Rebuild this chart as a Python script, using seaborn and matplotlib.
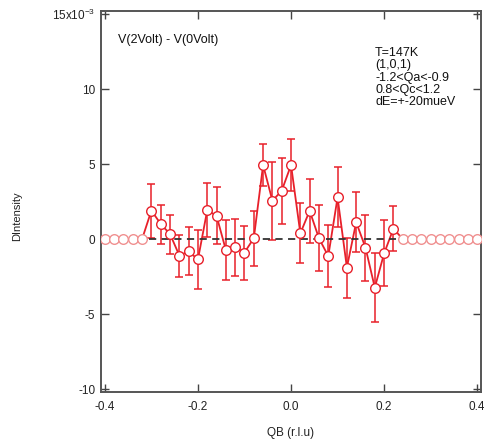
import numpy as np
import pandas as pd
import matplotlib
matplotlib.use("Agg")
import matplotlib.pyplot as plt
import seaborn as sns

# ---- data (values in units of 1e-3) ----
qb_left_zero = [-0.40, -0.38, -0.36, -0.34, -0.32]
qb_data = [-0.30, -0.28, -0.26, -0.24, -0.22, -0.20, -0.18, -0.16, -0.14, -0.12,
           -0.10, -0.08, -0.06, -0.04, -0.02, 0.00, 0.02, 0.04, 0.06, 0.08,
           0.10, 0.12, 0.14, 0.16, 0.18, 0.20, 0.22]
dint_data = [1.9, 1.0, 0.33, -1.1, -0.83, -1.36, 1.93, 1.54, -0.74, -0.56,
             -0.9, 0.05, 4.93, 2.55, 3.22, 4.93, 0.38, 1.88, 0.05, -1.14,
             2.77, -1.9, 1.12, -0.58, -3.24, -0.96, 0.69]
err_data = [1.8, 1.3, 1.3, 1.4, 1.6, 1.95, 1.78, 1.9, 2.0, 1.9,
            1.8, 1.85, 1.42, 2.6, 2.2, 1.75, 2.0, 2.15, 2.2, 2.05,
            2.0, 2.0, 2.0, 2.2, 2.3, 2.2, 1.5]
qb_right_zero = [0.24, 0.26, 0.28, 0.30, 0.32, 0.34, 0.36, 0.38, 0.40]
fit_range = [-0.305, 0.225]
fit_value = 0.0

annot_title = "V(2Volt) - V(0Volt)"
annot_params = ["T=147K", "(1,0,1)", "-1.2<Qa<-0.9", "0.8<Qc<1.2", "dE=+-20mueV"]
x_ticks = [-0.4, -0.2, 0.0, 0.2, 0.4]
x_ticklabels = ["-0.4", "-0.2", "0.0", "0.2", "0.4"]
y_ticks = [-10, -5, 0, 5, 10, 15]
y_ticklabels = ["-10", "-5", "0", "5", "10", r"15x10$^{-3}$"]

sns.set_theme(style="ticks")
plt.rcParams['font.family'] = ['Liberation Sans', 'DejaVu Sans']
plt.rcParams['mathtext.fontset'] = 'custom'
plt.rcParams['mathtext.rm'] = 'Liberation Sans'
plt.rcParams['mathtext.it'] = 'Liberation Sans'
plt.rcParams['mathtext.bf'] = 'Liberation Sans'

fig = plt.figure(figsize=(4.85, 4.46), dpi=100)
ax = fig.add_axes([0.2076, 0.1204, 0.9911 - 0.2076, 0.9753 - 0.1204])

red = "#e8202a"
pink = "#f09090"

all_x = qb_left_zero + qb_data + qb_right_zero
all_y = [0.0] * len(qb_left_zero) + dint_data + [0.0] * len(qb_right_zero)
df_all = pd.DataFrame({"QB": all_x, "DI": all_y})
df_data = pd.DataFrame({"QB": qb_data, "DI": dint_data, "err": err_data})
df_zero = pd.DataFrame({"QB": qb_left_zero + qb_right_zero,
                        "DI": [0.0] * (len(qb_left_zero) + len(qb_right_zero))})

# connecting line
sns.lineplot(data=df_all, x="QB", y="DI", ax=ax, color=red, lw=1.3,
             sort=False, estimator=None, zorder=2)
# error bars
ax.errorbar(df_data["QB"], df_data["DI"], yerr=df_data["err"], fmt="none",
            ecolor=red, elinewidth=1.1, capsize=3.0, capthick=1.1, zorder=1)
# dashed fit line
ax.plot(fit_range, [fit_value, fit_value], color="#333333", lw=1.3,
        dashes=(4, 3), zorder=3)
# markers
sns.scatterplot(data=df_zero, x="QB", y="DI", ax=ax, marker="o", s=48,
                facecolor="white", edgecolor=pink, linewidth=1.0, zorder=4)
sns.scatterplot(data=df_data, x="QB", y="DI", ax=ax, marker="o", s=48,
                facecolor="white", edgecolor=red, linewidth=1.0, zorder=5)

ax.set_xlim(-0.409, 0.4075)
ax.set_ylim(-10.22, 15.2)
ax.set_xticks(x_ticks)
ax.set_xticklabels(x_ticklabels)
ax.set_yticks(y_ticks)
ax.set_yticklabels(y_ticklabels)
ax.tick_params(axis="both", direction="in", length=6, width=1.0,
               color="#444444", labelsize=8.5, labelcolor="#222222",
               top=True, right=True)
ax.tick_params(axis="x", pad=6)
ax.tick_params(axis="y", pad=4)
for sp in ax.spines.values():
    sp.set_visible(True)
    sp.set_color("#555555")
    sp.set_linewidth(1.4)

ax.set_xlabel("QB (r.l.u)", fontsize=8.5, color="#222222", labelpad=10)
ax.set_ylabel("DIntensity", fontsize=8, color="#222222")
ax.yaxis.set_label_coords(-0.207, 0.463)

ax.text(0.046, 0.924, annot_title, transform=ax.transAxes, fontsize=9,
        color="#111111", va="center", ha="left")
ax.text(0.722, 0.905, "\n".join(annot_params), transform=ax.transAxes,
        fontsize=9, color="#111111", va="top", ha="left", linespacing=1.02)

fig.savefig("out.png", dpi=100)
